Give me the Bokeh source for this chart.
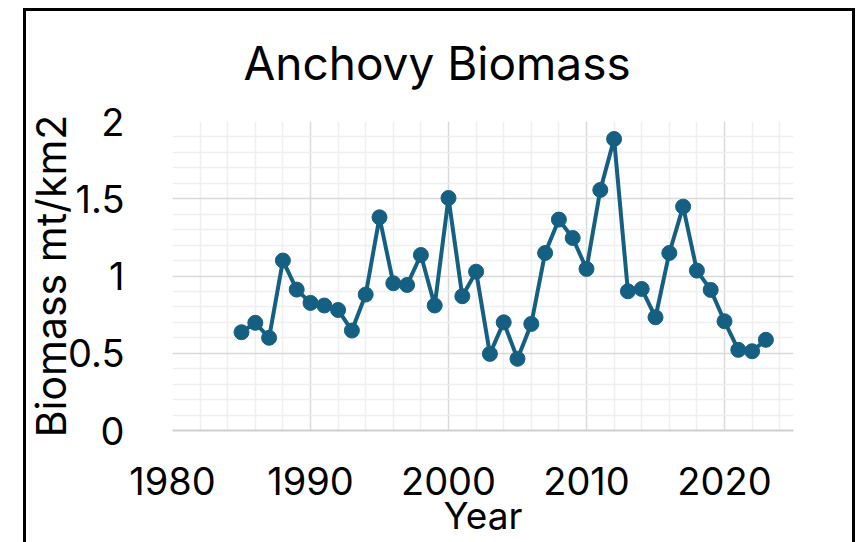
from bokeh.plotting import figure
from bokeh.models import Range1d, FixedTicker, NumeralTickFormatter, InlineStyleSheet
from bokeh.embed import file_html
from bokeh.resources import INLINE

years = [1985, 1986, 1987, 1988, 1989, 1990, 1991, 1992, 1993, 1994,
         1995, 1996, 1997, 1998, 1999, 2000, 2001, 2002, 2003, 2004,
         2005, 2006, 2007, 2008, 2009, 2010, 2011, 2012, 2013, 2014,
         2015, 2016, 2017, 2018, 2019, 2020, 2021, 2022, 2023]
biomass = [0.636, 0.697, 0.600, 1.100, 0.912, 0.826, 0.809, 0.780, 0.647, 0.880,
           1.380, 0.953, 0.942, 1.136, 0.809, 1.505, 0.869, 1.028, 0.496, 0.700,
           0.464, 0.690, 1.149, 1.365, 1.246, 1.046, 1.557, 1.887, 0.901, 0.916,
           0.733, 1.149, 1.449, 1.035, 0.910, 0.707, 0.522, 0.513, 0.587]

x_major = [1980, 1990, 2000, 2010, 2020]
x_minor = [1982, 1984, 1986, 1988, 1992, 1994, 1996, 1998, 2002, 2004, 2006, 2008,
           2012, 2014, 2016, 2018, 2022, 2024]
y_major = [0, 0.5, 1, 1.5, 2]
y_minor = [0.1, 0.2, 0.3, 0.4, 0.6, 0.7, 0.8, 0.9, 1.1, 1.2, 1.3, 1.4,
           1.6, 1.7, 1.8, 1.9]

FONT = "Inter"
COLOR = "#156082"

border_css = InlineStyleSheet(css="""
:host { position: relative; }
:host::after {
  content: '';
  position: absolute;
  left: 23px; top: 8px; width: 832px; bottom: 0px;
  box-sizing: border-box;
  border-left: 3px solid black;
  border-top: 3px solid black;
  border-right: 3px solid black;
  pointer-events: none;
  z-index: 10;
}
""")

p = figure(width=861, height=542, output_backend="svg", toolbar_location=None,
           x_range=Range1d(1980, 2025), y_range=Range1d(0, 2),
           min_border_left=172, min_border_right=68, min_border_top=121,
           min_border_bottom=112, title="Anchovy Biomass")
p.stylesheets = [border_css]
p.outline_line_color = None
p.background_fill_color = "white"
p.border_fill_color = "white"

p.title.text_font = FONT
p.title.text_font_size = "46px"
p.title.text_font_style = "normal"
p.title.text_color = "black"
p.title.align = "left"
p.title.offset = 71
p.title.standoff = 62

p.xaxis.ticker = FixedTicker(ticks=x_major, minor_ticks=x_minor)
p.yaxis.ticker = FixedTicker(ticks=y_major, minor_ticks=y_minor)
p.yaxis.formatter = NumeralTickFormatter(format="0.[0]")

for ax in (p.xaxis[0], p.yaxis[0]):
    ax.major_tick_line_color = None
    ax.minor_tick_line_color = None
    ax.major_label_text_font = FONT
    ax.major_label_text_font_size = "38px"
    ax.major_label_text_color = "black"
    ax.axis_label_text_font = FONT
    ax.axis_label_text_font_style = "normal"
    ax.axis_label_text_color = "black"

p.xaxis.axis_line_color = "#cfcfcf"
p.xaxis.axis_line_width = 2
p.yaxis.axis_line_color = None
p.xaxis.major_label_standoff = 30
p.yaxis.major_label_standoff = 42
p.xaxis.axis_label = "Year"
p.xaxis.axis_label_text_font_size = "37px"
p.xaxis.axis_label_standoff = -5
p.yaxis.axis_label = "Biomass mt/km2"
p.yaxis.axis_label_text_font_size = "41px"
p.yaxis.axis_label_standoff = -11

for g in (p.xgrid[0], p.ygrid[0]):
    g.grid_line_color = "#d9d9d9"
    g.grid_line_width = 1.5
    g.minor_grid_line_color = "#efefef"
    g.minor_grid_line_width = 1.5

p.line(years, biomass, line_color=COLOR, line_width=4)
p.scatter(years, biomass, size=15, fill_color=COLOR, line_color=COLOR)

open("out.html", "w").write(file_html(p, INLINE))
